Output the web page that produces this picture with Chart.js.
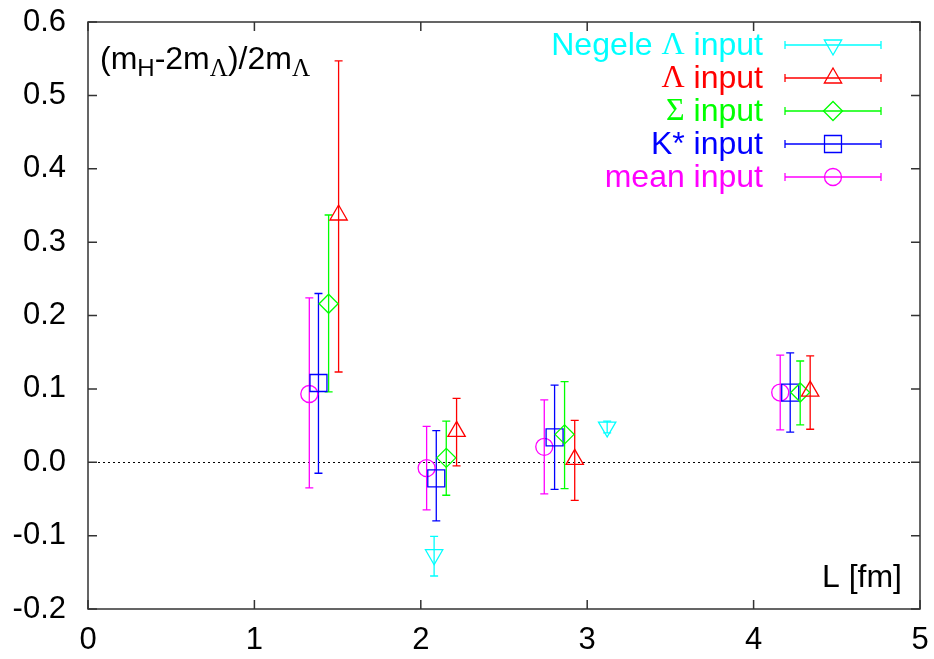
<!DOCTYPE html>
<html>
<head>
<meta charset="utf-8">
<script src="https://cdn.jsdelivr.net/npm/chart.js@4"></script>
<style>
  html, body { margin: 0; padding: 0; background: #fff; }
  #wrap { width: 934px; height: 659px; }
</style>
</head>
<body>
<div id="wrap"><canvas id="plot" width="934" height="659"></canvas></div>
<script>
// L [fm] positions, central values and error-bar ends
const negeleX = [2.08, 3.12];
const negeleY = [-0.126, 0.048];
const negeleLo = [-0.155, 0.040];
const negeleHi = [-0.101, 0.056];

const lambdaX = [1.506, 2.215, 2.925, 4.34];
const lambdaY = [0.337, 0.042, 0.004, 0.097];
const lambdaLo = [0.123, -0.005, -0.052, 0.045];
const lambdaHi = [0.547, 0.087, 0.057, 0.145];

const sigmaX = [1.446, 2.153, 2.864, 4.28];
const sigmaY = [0.216, 0.006, 0.038, 0.095];
const sigmaLo = [0.096, -0.045, -0.036, 0.051];
const sigmaHi = [0.337, 0.056, 0.110, 0.138];

const kstarX = [1.385, 2.093, 2.804, 4.22];
const kstarY = [0.108, -0.022, 0.034, 0.095];
const kstarLo = [-0.015, -0.080, -0.037, 0.041];
const kstarHi = [0.230, 0.043, 0.105, 0.149];

const meanX = [1.33, 2.035, 2.742, 4.16];
const meanY = [0.093, -0.008, 0.021, 0.095];
const meanLo = [-0.035, -0.065, -0.043, 0.044];
const meanHi = [0.224, 0.049, 0.085, 0.146];

const xTicks = [0, 1, 2, 3, 4, 5];
const yTicks = [-0.2, -0.1, 0.0, 0.1, 0.2, 0.3, 0.4, 0.5, 0.6];

const SANS = '"Liberation Sans", Arial, sans-serif';
const SERIF = '"Liberation Serif", "Times New Roman", serif';

const makePoints = (xs, ys, lo, hi) => xs.map((x, i) => ({ x: x, y: ys[i], lo: lo[i], hi: hi[i] }));

const series = [
    { label: [['Negele ', SANS], ['\u039B', SERIF], [' input', SANS]], color: '#00ffff', style: 'triangle', radius: 10, rotation: 180, data: makePoints(negeleX, negeleY, negeleLo, negeleHi) },
    { label: [['\u039B', SERIF], [' input', SANS]], color: '#ff0000', style: 'triangle', radius: 10, rotation: 0, data: makePoints(lambdaX, lambdaY, lambdaLo, lambdaHi) },
    { label: [['\u03A3', SERIF], [' input', SANS]], color: '#00ff00', style: 'rectRot', radius: 9.5, rotation: 0, data: makePoints(sigmaX, sigmaY, sigmaLo, sigmaHi) },
    { label: [['K* input', SANS]], color: '#0000ff', style: 'rect', radius: 12, rotation: 0, data: makePoints(kstarX, kstarY, kstarLo, kstarHi) },
    { label: [['mean input', SANS]], color: '#ff00ff', style: 'circle', radius: 8.5, rotation: 0, data: makePoints(meanX, meanY, meanLo, meanHi) }
];

// draw text made of pieces with different fonts, starting at xLeft
const drawPieces = (ctx, pieces, xLeft, y, size) => {
    let x = xLeft;
    pieces.forEach(p => {
        ctx.font = `${size}px ${p[1]}`;
        ctx.fillText(p[0], x, y);
        x += ctx.measureText(p[0]).width;
    });
    return x;
};
const piecesWidth = (ctx, pieces, size) => {
    let w = 0;
    pieces.forEach(p => {
        ctx.font = `${size}px ${p[1]}`;
        w += ctx.measureText(p[0]).width;
    });
    return w;
};

const errorBars = {
    id: 'errorBars',
    beforeDatasetsDraw(chart) {
        const ctx = chart.ctx;
        const xs = chart.scales.x, ys = chart.scales.y;
        const area = chart.chartArea;
        ctx.save();
        // dotted zero line
        ctx.strokeStyle = '#000';
        ctx.lineWidth = 1;
        ctx.setLineDash([2, 3]);
        const y0 = Math.round(ys.getPixelForValue(0)) + 0.5;
        ctx.beginPath();
        ctx.moveTo(area.left, y0);
        ctx.lineTo(area.right, y0);
        ctx.stroke();
        ctx.setLineDash([]);

        series.forEach(s => {
            ctx.strokeStyle = s.color;
            ctx.lineWidth = 1.3;
            s.data.forEach(p => {
                const px = xs.getPixelForValue(p.x);
                const top = ys.getPixelForValue(p.hi);
                const bot = ys.getPixelForValue(p.lo);
                ctx.beginPath();
                ctx.moveTo(px, top);
                ctx.lineTo(px, bot);
                ctx.moveTo(px - 4, top);
                ctx.lineTo(px + 4, top);
                ctx.moveTo(px - 4, bot);
                ctx.lineTo(px + 4, bot);
                ctx.stroke();
            });
        });
        ctx.restore();
    },
    afterDraw(chart) {
        const ctx = chart.ctx;
        const xs = chart.scales.x, ys = chart.scales.y;
        const area = chart.chartArea;
        ctx.save();
        // frame and mirrored inward ticks
        ctx.strokeStyle = '#333';
        ctx.lineWidth = 1.5;
        ctx.strokeRect(area.left, area.top, area.right - area.left, area.bottom - area.top);
        ctx.beginPath();
        xTicks.forEach(v => {
            const px = xs.getPixelForValue(v);
            ctx.moveTo(px, area.bottom);
            ctx.lineTo(px, area.bottom - 9);
            ctx.moveTo(px, area.top);
            ctx.lineTo(px, area.top + 9);
        });
        yTicks.forEach(v => {
            const py = ys.getPixelForValue(v);
            ctx.moveTo(area.left, py);
            ctx.lineTo(area.left + 9, py);
            ctx.moveTo(area.right, py);
            ctx.lineTo(area.right - 9, py);
        });
        ctx.stroke();

        // axis label texts inside the frame
        ctx.fillStyle = '#000';
        ctx.textBaseline = 'alphabetic';
        let x = area.left + 12;
        const base = area.top + 47;
        x = drawPieces(ctx, [['(m', SANS]], x, base, 32);
        x = drawPieces(ctx, [['H', SANS]], x, base + 7, 24);
        x = drawPieces(ctx, [['-2m', SANS]], x, base, 32);
        x = drawPieces(ctx, [['\u039B', SERIF]], x, base + 7, 25);
        x = drawPieces(ctx, [[')/2m', SANS]], x, base, 32);
        drawPieces(ctx, [['\u039B', SERIF]], x, base + 7, 25);

        ctx.font = `32px ${SANS}`;
        ctx.textAlign = 'right';
        ctx.fillText('L [fm]', area.right - 18, area.bottom - 22);
        ctx.textAlign = 'left';

        // legend
        const textRight = area.right - 157;
        const lineL = area.right - 135, lineR = area.right - 39;
        const markX = (lineL + lineR) / 2;
        ctx.textBaseline = 'middle';
        series.forEach((s, i) => {
            const y = area.top + 23 + 33 * i;
            ctx.fillStyle = s.color;
            const w = piecesWidth(ctx, s.label, 32);
            drawPieces(ctx, s.label, textRight - w, y + 1, 32);
            ctx.strokeStyle = s.color;
            ctx.lineWidth = 1.3;
            ctx.beginPath();
            ctx.moveTo(lineL, y);
            ctx.lineTo(lineR, y);
            ctx.moveTo(lineL, y - 4);
            ctx.lineTo(lineL, y + 4);
            ctx.moveTo(lineR, y - 4);
            ctx.lineTo(lineR, y + 4);
            ctx.stroke();
            ctx.fillStyle = 'rgba(0,0,0,0)';
            Chart.helpers.drawPoint(ctx, { pointStyle: s.style, radius: s.radius, rotation: s.rotation, borderWidth: 1.3 }, markX, y);
        });
        ctx.restore();
    }
};

const ctx = document.getElementById('plot').getContext('2d');
const chart = new Chart(ctx, {
    type: 'scatter',
    data: {
        datasets: series.map(s => ({
            data: s.data,
            pointStyle: s.style,
            pointRadius: s.radius,
            pointRotation: s.rotation,
            borderColor: s.color,
            backgroundColor: 'rgba(0,0,0,0)',
            pointBorderWidth: 1.3,
            showLine: false
        }))
    },
    options: {
        responsive: false,
        animation: false,
        layout: { padding: { left: 0, top: 22, right: 14, bottom: 0 } },
        plugins: {
            legend: { display: false },
            tooltip: { enabled: false }
        },
        scales: {
            x: {
                type: 'linear',
                min: 0,
                max: 5,
                afterFit: (scale) => {
                    scale.height = 50;
                    scale.paddingLeft = 0;
                    scale.paddingRight = 0;
                },
                grid: { display: false, drawTicks: false },
                border: { display: false },
                ticks: {
                    stepSize: 1,
                    padding: 13,
                    color: '#000',
                    font: { family: SANS, size: 31 }
                }
            },
            y: {
                type: 'linear',
                min: -0.2,
                max: 0.6,
                afterFit: (scale) => {
                    scale.width = 88;
                    scale.paddingTop = 0;
                    scale.paddingBottom = 0;
                },
                grid: { display: false, drawTicks: false },
                border: { display: false },
                ticks: {
                    stepSize: 0.1,
                    padding: 22,
                    color: '#000',
                    font: { family: SANS, size: 31 },
                    callback: (v) => v.toFixed(1)
                }
            }
        }
    },
    plugins: [errorBars]
});
</script>
</body>
</html>
